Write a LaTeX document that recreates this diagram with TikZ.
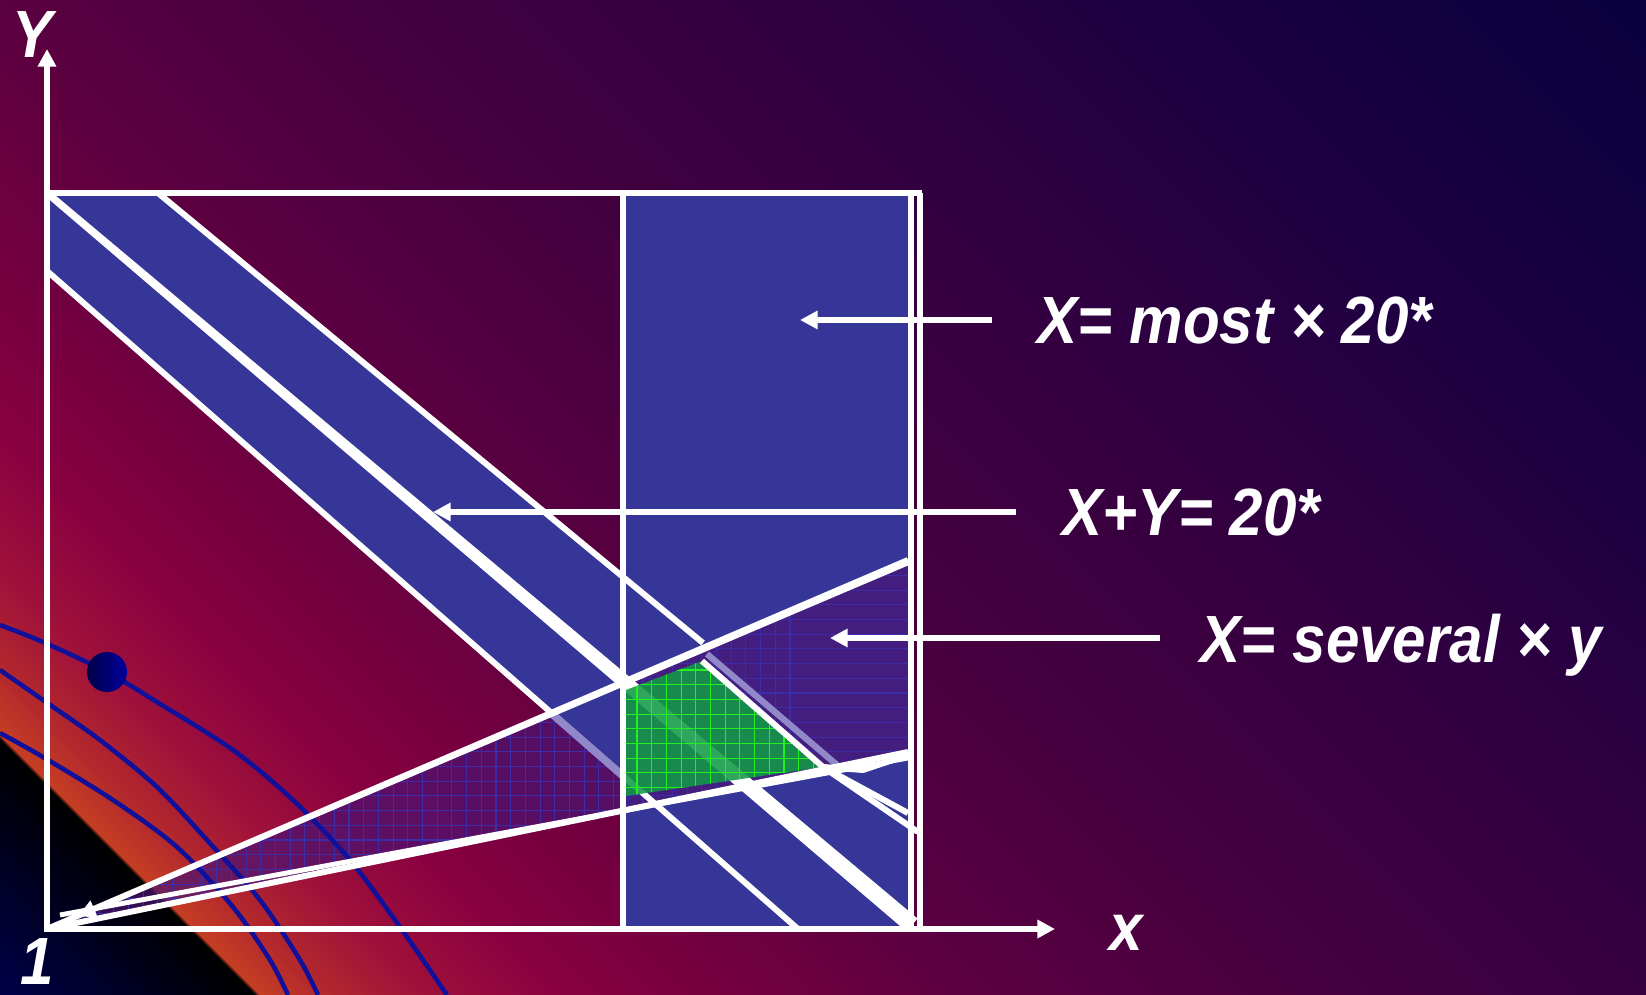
\documentclass[tikz,border=0pt]{standalone}
\usepackage{fontspec}
\setmainfont{Liberation Sans}[FakeStretch=0.9]
\usetikzlibrary{arrows.meta, positioning}

\definecolor{bgA}{HTML}{00005C}
\definecolor{bgB}{HTML}{000050}
\definecolor{bgC}{HTML}{000018}
\definecolor{bgD}{HTML}{000000}
\definecolor{bgE}{HTML}{C63E24}
\definecolor{bgF}{HTML}{B42A2C}
\definecolor{bgG}{HTML}{A0123A}
\definecolor{bgH}{HTML}{880040}
\definecolor{bgI}{HTML}{700040}
\definecolor{bgJ}{HTML}{580040}
\definecolor{bgK}{HTML}{46003F}
\definecolor{bgL}{HTML}{360040}
\definecolor{bgM}{HTML}{220042}
\definecolor{bgN}{HTML}{0E0040}
\definecolor{bgO}{HTML}{04003C}
\definecolor{rectblue}{HTML}{363699}
\definecolor{wedgepurple}{HTML}{4B1473}
\definecolor{wedgegrid}{HTML}{3C2CA8}
\definecolor{greenfill}{HTML}{129A46}
\definecolor{greengrid}{HTML}{22F022}
\definecolor{lavender}{HTML}{9088C8}
\definecolor{curveblue}{HTML}{10109A}
\definecolor{dotdark}{HTML}{000048}
\definecolor{dotblue}{HTML}{0000A0}

\pgfdeclarehorizontalshading{slidebg}{100bp}{color(0bp)=(bgA); color(14.6bp)=(bgA);
  color(21bp)=(bgB); color(25.2bp)=(bgC); color(27.0bp)=(bgD); color(27.1bp)=(bgE);
  color(28.4bp)=(bgF); color(30.5bp)=(bgG); color(33.7bp)=(bgH); color(38bp)=(bgI);
  color(43.6bp)=(bgJ); color(50bp)=(bgK); color(57bp)=(bgL); color(65.5bp)=(bgM);
  color(74.7bp)=(bgN); color(85.4bp)=(bgO); color(100bp)=(bgO)}

\begin{document}
\begin{tikzpicture}[x=0.01cm, y=-0.01cm,
    wline/.style={draw=white, line width=1.7pt},
    axisline/.style={white, line width=1.9pt, -{Triangle[length=5pt,width=5pt]}},
    callout/.style={white, line width=1.6pt, -{Triangle[length=5pt,width=5pt]}},
    lbl/.style={text=white, font=\fontsize{19}{21}\selectfont\bfseries\itshape, inner sep=0pt, text depth=0pt},
    curve/.style={draw=curveblue, line width=1.3pt},
    gridline/.style={line width=0.3pt}
  ]
  \useasboundingbox (0,0) rectangle (1646,995);

  % background
  \begin{scope}[x=1cm, y=1cm]
    \clip (0,0) rectangle (16.46,-9.95);
    \shade[shading=slidebg, shading angle=45] (0,-13.205) rectangle (16.46,3.255);
  \end{scope}

  % key points
  \coordinate (O) at (47,929);
  \coordinate (Ytip) at (47,49);
  \coordinate (Xtip) at (1055,929);
  \coordinate (TL) at (47,193);
  \coordinate (TR) at (922,193);
  \coordinate (BR) at (920,929);
  \coordinate (A0) at (158,193);
  \coordinate (V) at (703,643);
  \coordinate (C0) at (47,271);
  \coordinate (C1) at (798,929);
  \coordinate (R1) at (908,560);
  \coordinate (R2) at (908,752);
  \coordinate (G1) at (626,690);
  \coordinate (G2) at (702,661);
  \coordinate (G3) at (823,767);
  \coordinate (G4) at (626,796);

  % x = most region
  \fill[rectblue] (623,193) rectangle (911,929);

  % x = several y wedge
  \begin{scope}
    \clip (O) -- (R1) -- (R2) -- cycle;
    \fill[wedgepurple, opacity=0.7] (0,500) rectangle (920,940);
    \foreach \k in {0,...,60}
      \draw[gridline, wedgegrid] ({790-\k*14.7},540) -- ++(0,400);
    \foreach \k in {0,...,27}
      \draw[gridline, wedgegrid] (40,{546+\k*14.7}) -- ++(880,0);
  \end{scope}

  % indifference curves
  \draw[curve] plot[smooth] coordinates {(0,625) (43,642) (107,672) (157,702) (233,750) (293,800) (350,860) (400,927) (447,995)};
  \draw[curve] plot[smooth] coordinates {(0,670) (43,700) (100,740) (157,787) (207,840) (260,900) (300,960) (318,995)};
  \draw[curve] plot[smooth] coordinates {(0,733) (43,757) (113,800) (177,847) (233,907) (270,960) (288,995)};
  \shade[left color=dotdark, right color=dotblue] (107,672) circle[radius=0.2cm];

  % x + y = 20 band
  \fill[rectblue] (TL) -- (A0) -- (623,577) -- (623,776) -- (C0) -- cycle;
  \draw[wline] (C0) -- (C1);
  \draw[lavender, line width=2.2pt] (551,713) -- (623,776);
  \fill[white] (49.3,190.3) -- (917.5,918.5) -- (906.5,931.5) -- (44.7,195.7) -- cycle;
  \draw[lavender, line width=1.8pt] (707,654) -- (837,765);

  % feasible region
  \begin{scope}
    \clip (G1) -- (G2) -- (G3) -- (G4) -- cycle;
    \fill[greenfill, opacity=0.88] (600,640) rectangle (840,800);
    \foreach \k in {0,...,16}
      \draw[gridline, greengrid] ({622.3+\k*14.7},640) -- ++(0,170);
    \foreach \k in {0,...,11}
      \draw[gridline, greengrid] (600,{655.3+\k*14.7}) -- ++(240,0);
  \end{scope}

  % outlines
  \draw[wline] (623,193) rectangle (911,929);
  \draw[wline] (TL) -- (TR);
  \draw[wline] (TR -| BR) -- (BR);
  \draw[wline] (A0) -- (V);
  \draw[wline] (G2) -- (G3);
  \draw[wline] (G3) -- (908,813);
  \draw[wline] (G3) -- (918,832);
  \draw[wline] (G3) -- (863,770) -- (908,755);
  \draw[wline] (O) -- (R1);
  \draw[white, line width=1.3pt, -{Triangle[length=5pt,width=5pt]}] (908,563) -- (78,916);
  \draw[wline] (O) -- (R2);
  \draw[white, line width=1.4pt] (60,915) -- (908,758);

  % axes
  \draw[axisline] (O) -- (Ytip);
  \draw[axisline] (44,929) -- (Xtip);
  \node[lbl] (ylab) at (33,35) {Y};
  \node[lbl] (xlab) at (1126,933) {x};
  \node[lbl] (one) at (37,962) {1};

  % callouts
  \coordinate (mostS) at (992,320);
  \coordinate (mostT) at (800,320);
  \draw[callout] (mostS) -- (mostT);
  \node[lbl, right=0.45cm of mostS] (mostL) {X= most × 20*};

  \coordinate (sumS) at (1016,512);
  \coordinate (sumT) at (433,512);
  \draw[callout] (sumS) -- (sumT);
  \node[lbl, right=0.46cm of sumS] (sumL) {X+Y= 20*};

  \coordinate (sevS) at (1160,638);
  \coordinate (sevT) at (830,638);
  \draw[callout] (sevS) -- (sevT);
  \node[lbl, right=0.40cm of sevS] (sevL) {X= several × y};
\end{tikzpicture}
\end{document}
